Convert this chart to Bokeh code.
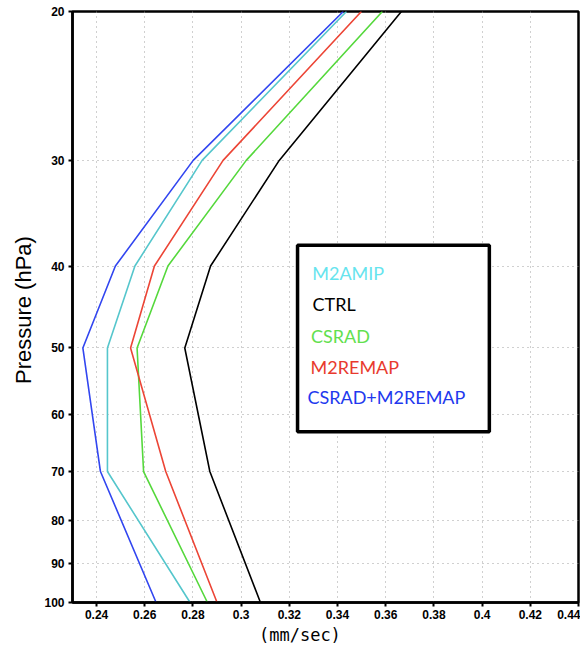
from bokeh.plotting import figure
from bokeh.models import Range1d, FixedTicker, BoxAnnotation, Label
from bokeh.embed import file_html
from bokeh.resources import INLINE

# ---- data ----
levels = [100, 70, 50, 40, 30, 20]
m2amip = [0.2788, 0.2445, 0.2445, 0.2559, 0.2838, 0.3437]
ctrl = [0.3080, 0.2870, 0.2766, 0.2873, 0.3158, 0.3665]
csrad = [0.2860, 0.2595, 0.2568, 0.2696, 0.3021, 0.3586]
m2remap = [0.2900, 0.2687, 0.2541, 0.2640, 0.2925, 0.3499]
csrad_m2remap = [0.2647, 0.2416, 0.2343, 0.2478, 0.2801, 0.3424]

series_names = ["M2AMIP", "CTRL", "CSRAD", "M2REMAP", "CSRAD+M2REMAP"]
series_values = [m2amip, ctrl, csrad, m2remap, csrad_m2remap]
line_colors = ["#55c6cc", "#000000", "#55d83c", "#ec4536", "#3246f0"]
text_colors = ["#66e4ee", "#000000", "#62e04e", "#e83a2e", "#2238ee"]

x_ticks = [0.24, 0.26, 0.28, 0.30, 0.32, 0.34, 0.36, 0.38, 0.40, 0.42, 0.44]
x_tick_labels = ["0.24", "0.26", "0.28", "0.3", "0.32", "0.34", "0.36", "0.38", "0.4", "0.42", "0.44"]
y_ticks = [20, 30, 40, 50, 60, 70, 80, 90, 100]
y_tick_labels = ["20", "30", "40", "50", "60", "70", "80", "90", "100"]

p = figure(width=580, height=647, output_backend="svg", toolbar_location=None,
           x_range=Range1d(0.23, 0.44), y_range=Range1d(100, 20), y_axis_type="log")
p.min_border_left = 72
p.min_border_right = 2
p.min_border_top = 11
p.min_border_bottom = 45
p.background_fill_color = "white"
p.border_fill_color = "white"
p.outline_line_color = "black"
p.outline_line_width = 2.5
p.outline_line_alpha = 1.0

# grid
for g in (p.xgrid, p.ygrid):
    g.grid_line_color = "#a0a0a0"
    g.grid_line_dash = "1 4"
    g.grid_line_width = 1

p.xaxis.ticker = FixedTicker(ticks=x_ticks, minor_ticks=[])
p.yaxis.ticker = FixedTicker(ticks=y_ticks, minor_ticks=[])
p.xgrid.ticker = FixedTicker(ticks=x_ticks, minor_ticks=[])
p.ygrid.ticker = FixedTicker(ticks=y_ticks, minor_ticks=[])
p.xaxis.major_label_overrides = {t: l for t, l in zip(x_ticks, x_tick_labels)}
p.yaxis.major_label_overrides = {t: l for t, l in zip(y_ticks, y_tick_labels)}

for ax in (p.xaxis, p.yaxis):
    ax.axis_line_width = 2.5
    ax.axis_line_color = "black"
    ax.major_tick_out = 4
    ax.major_tick_in = 0
    ax.major_tick_line_width = 2
    ax.major_tick_line_color = "black"
    ax.minor_tick_line_color = None
    ax.major_label_text_font = "Liberation Sans"
    ax.major_label_text_font_style = "bold"
    ax.major_label_text_font_size = "12px"
    ax.major_label_text_color = "black"
    ax.major_label_standoff = 4
p.xaxis.major_label_standoff = 3

p.yaxis.axis_label = "Pressure  (hPa)"
p.yaxis.axis_label_text_font = "Liberation Sans"
p.yaxis.axis_label_text_font_style = "normal"
p.yaxis.axis_label_text_font_size = "22px"
p.yaxis.axis_label_text_color = "black"
p.yaxis.axis_label_standoff = 5

# x-axis title; trailing no-break spaces shift it left, as in the original
p.xaxis.axis_label = "(mm/sec)" + "\u00a0" * 5
p.xaxis.axis_label_text_font = "DejaVu Sans Mono"
p.xaxis.axis_label_text_font_style = "normal"
p.xaxis.axis_label_text_font_size = "17px"
p.xaxis.axis_label_text_color = "black"
p.xaxis.axis_label_standoff = 3

for vals, col in zip(series_values, line_colors):
    p.line(vals, levels, line_color=col, line_width=1.6)

# legend box (text-only legend as in the original)
box = BoxAnnotation(left=0.3234, right=0.4030, top=37.8, bottom=62.8,
                    fill_color="white", fill_alpha=1.0,
                    line_color="black", line_alpha=1.0, line_width=3.5)
p.add_layout(box)

leg_x = [0.3295, 0.3296, 0.3290, 0.3288, 0.3275]
leg_y = [40.8, 44.3, 48.4, 52.7, 57.2]
for name, tc, lx, ly in zip(series_names, text_colors, leg_x, leg_y):
    p.add_layout(Label(x=lx, y=ly, text=name, text_color=tc,
                       text_font="Lato", text_font_size="18px",
                       text_baseline="middle", text_align="left"))

open("out.html", "w").write(file_html(p, INLINE))
